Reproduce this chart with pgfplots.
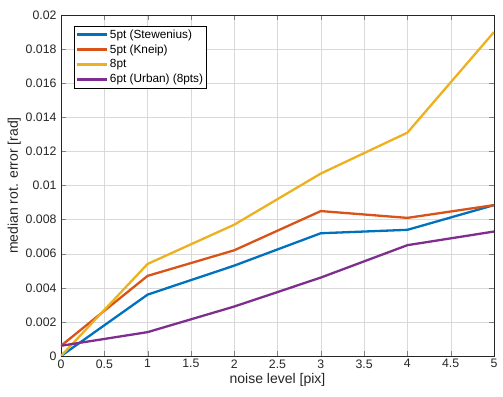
\documentclass[border=0pt]{standalone}
\usepackage{pgfplots}
\pgfplotsset{compat=1.18}
\usepackage{fontspec}
\setmainfont{Liberation Sans}
\definecolor{mblue}{rgb}{0,0.447,0.741}
\definecolor{mred}{rgb}{0.85,0.325,0.098}
\definecolor{myellow}{rgb}{0.929,0.694,0.125}
\definecolor{mpurple}{rgb}{0.494,0.184,0.556}
\begin{document}
\begin{tikzpicture}
\begin{axis}[
  scale only axis,
  width=433bp, height=341bp,
  xmin=0, xmax=5, ymin=0, ymax=0.02,
  xtick={0,0.5,...,5},
  ytick={0,0.002,...,0.0201},
  scaled y ticks=false,
  yticklabel style={/pgf/number format/fixed,/pgf/number format/precision=3, xshift=-1bp},
  xticklabel style={/pgf/number format/fixed},
  /pgf/number format/assume math mode=true,
  tick label style={font=\fontsize{12.3bp}{14bp}\selectfont, text=black!85},
  label style={font=\fontsize{14bp}{16bp}\selectfont, text=black!85},
  xlabel={noise level [pix]},
  ylabel={median rot. error [rad]},
  xlabel style={yshift=2bp},
  ylabel style={yshift=-2bp},
  grid=major,
  major grid style={gray!30},
  tick align=inside,
  major tick length=5bp,
  axis line style={black!85},
  legend style={font=\fontsize{11.8bp}{13bp}\selectfont, draw=black, at={(0.030,0.968)}, anchor=north west, inner sep=1.5pt, row sep=1bp, legend cell align=left},
  legend image code/.code={\draw[#1, line width=2.3bp] (0bp,0bp) -- (30bp,0bp);},
  every axis plot/.append style={line width=2.3bp},
]
\addplot[mblue] coordinates {(0,0) (1,0.0036) (2,0.0053) (3,0.0072) (4,0.0074) (5,0.00885)};
\addlegendentry{5pt (Stewenius)}
\addplot[mred] coordinates {(0,0.0006) (1,0.0047) (2,0.0062) (3,0.0085) (4,0.0081) (5,0.00885)};
\addlegendentry{5pt (Kneip)}
\addplot[myellow] coordinates {(0,0) (1,0.0054) (2,0.0077) (3,0.0107) (4,0.0131) (5,0.0190)};
\addlegendentry{8pt}
\addplot[mpurple] coordinates {(0,0.0006) (1,0.0014) (2,0.0029) (3,0.0046) (4,0.0065) (5,0.0073)};
\addlegendentry{6pt (Urban) (8pts)}
\end{axis}
\pgfresetboundingbox
\path (-61bp,-41bp) rectangle (442bp,356bp);
\end{tikzpicture}
\end{document}
